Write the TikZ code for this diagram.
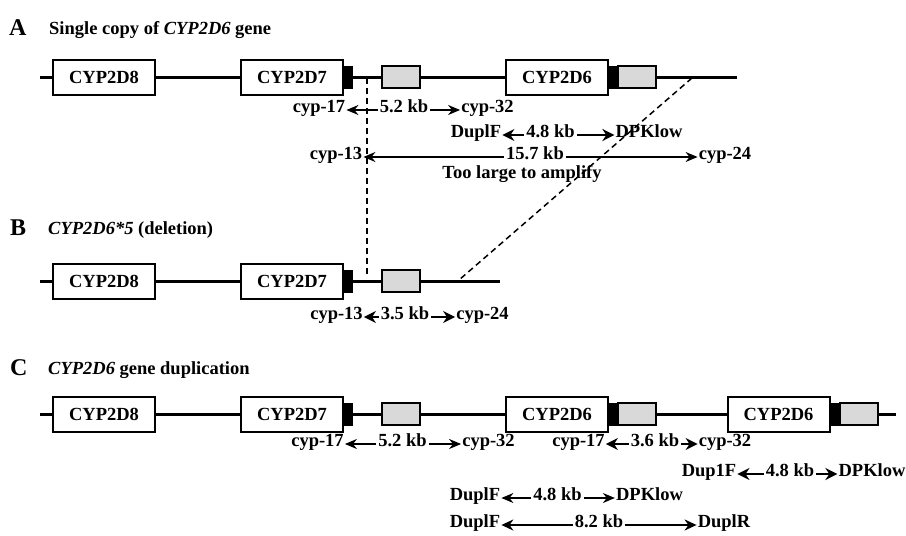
\documentclass[tikz,border=0pt]{standalone}
\usepackage{fontspec}
\setmainfont{Liberation Serif}
\usetikzlibrary{arrows.meta}
\tikzset{
 txt/.style={font=\fontsize{18.5}{20}\selectfont\bfseries, inner sep=0pt, anchor=mid},
 genebox/.style={draw, line width=2pt, fill=white, minimum width=102pt, minimum height=35pt, inner sep=0pt, font=\fontsize{18.5}{20}\selectfont\bfseries},
 blk/.style={fill=black, draw=black, line width=0.5pt, minimum width=9pt, minimum height=22pt, inner sep=0pt},
 gry/.style={draw, line width=2pt, fill=gray!30, minimum width=38pt, minimum height=22pt, inner sep=0pt},
 backbone/.style={line width=3pt},
 thinarr/.style={-{Stealth[length=12pt,width=10pt]}, line width=1.3pt, shorten <=2pt, shorten >=1pt},
 medarr/.style={-{Stealth[length=12pt,width=11pt]}, line width=1.8pt, shorten <=2pt, shorten >=1pt},
 thickarr/.style={-{Stealth[length=12pt,width=12pt]}, line width=2.4pt, shorten <=2pt, shorten >=1pt},
 dashln/.style={dash pattern=on 6pt off 4pt, line width=1.5pt},
 panel/.style={font=\fontsize{24}{26}\selectfont\bfseries, inner sep=0pt, anchor=base west},
 ttl/.style={font=\fontsize{18.5}{20}\selectfont\bfseries, inner sep=0pt, anchor=base west},
}
\begin{document}
\begin{tikzpicture}[x=1pt,y=-1pt]
\useasboundingbox (0,0) rectangle (906,536);
% ---------------- Panel A
\node[panel] (pA) at (9,35) {A};
\node[ttl] (tA) at (49,34) {Single copy of \textit{CYP2D6} gene};
\coordinate (a0) at (40,77); \coordinate (a1) at (737,77);
\draw[backbone] (a0) -- (a1);
\node[genebox] (a8) at (104,77) {CYP2D8};
\node[genebox] (a7) at (292,77) {CYP2D7};
\node[blk] (a7b) at (347.5,77) {};
\node[gry] (a7g) at (401,77) {};
\node[genebox] (a6) at (557,77) {CYP2D6};
\node[blk] (a6b) at (612.5,77) {};
\node[gry] (a6g) at (636.5,77) {};
% A labels
\node[txt] (a17) at (319,110) {cyp-17};
\node[txt] (a52) at (404,110) {5.2 kb};
\node[txt] (a32) at (487.5,110) {cyp-32};
\draw[thinarr] (a52.mid west) -- (a17.mid east);
\draw[thinarr] (a52.mid east) -- (a32.mid west);
\node[txt] (aDF) at (476,135) {DuplF};
\node[txt] (a48) at (550.5,135) {4.8 kb};
\node[txt] (aDP) at (649,135) {DPKlow};
\draw[thickarr] (a48.mid west) -- (aDF.mid east);
\draw[thickarr] (a48.mid east) -- (aDP.mid west);
\node[txt] (a13) at (336,157) {cyp-13};
\node[txt] (a157) at (535,157) {15.7 kb};
\node[txt] (a24) at (725,157) {cyp-24};
\draw[thinarr] (a157.mid west) -- (a13.mid east);
\draw[thinarr] (a157.mid east) -- (a24.mid west);
\node[txt] (aTL) at (522,176) {Too large to amplify};
% dashed deletion boundaries
\coordinate (dv1) at (367,78); \coordinate (dv2) at (367,276);
\coordinate (dg1) at (692,78); \coordinate (dg2) at (459,280);
\draw[dashln] (dv1) -- (dv2);
\draw[dashln] (dg1) -- (dg2);
% ---------------- Panel B
\node[panel] (pB) at (10,235) {B};
\node[ttl] (tB) at (48,234) {\textit{CYP2D6*5} (deletion)};
\coordinate (b0) at (40,281); \coordinate (b1) at (500,281);
\draw[backbone] (b0) -- (b1);
\node[genebox] (b8) at (104,281) {CYP2D8};
\node[genebox] (b7) at (292,281) {CYP2D7};
\node[blk] (b7b) at (347.5,281) {};
\node[gry] (b7g) at (401,281) {};
\node[txt] (b13) at (336.5,317) {cyp-13};
\node[txt] (b35) at (405,317) {3.5 kb};
\node[txt] (b24) at (482.5,317) {cyp-24};
\draw[thickarr] (b35.mid west) -- (b13.mid east);
\draw[thickarr] (b35.mid east) -- (b24.mid west);
% ---------------- Panel C
\node[panel] (pC) at (10,375) {C};
\node[ttl] (tC) at (48,374) {\textit{CYP2D6} gene duplication};
\coordinate (c0) at (40,414); \coordinate (c1) at (896,414);
\draw[backbone] (c0) -- (c1);
\node[genebox] (c8) at (104,414) {CYP2D8};
\node[genebox] (c7) at (292,414) {CYP2D7};
\node[blk] (c7b) at (347.5,414) {};
\node[gry] (c7g) at (401,414) {};
\node[genebox] (c6) at (557,414) {CYP2D6};
\node[blk] (c6b) at (612.5,414) {};
\node[gry] (c6g) at (636.5,414) {};
\node[genebox] (c6x) at (778.5,414) {CYP2D6};
\node[blk] (c6xb) at (835,414) {};
\node[gry] (c6xg) at (859,414) {};
% C labels
\node[txt] (c17) at (317.5,444) {cyp-17};
\node[txt] (c52) at (402.5,444) {5.2 kb};
\node[txt] (c32) at (488.5,444) {cyp-32};
\draw[thinarr] (c52.mid west) -- (c17.mid east);
\draw[thinarr] (c52.mid east) -- (c32.mid west);
\node[txt] (c17x) at (578.5,444) {cyp-17};
\node[txt] (c36) at (655,444) {3.6 kb};
\node[txt] (c32x) at (725,444) {cyp-32};
\draw[thickarr] (c36.mid west) -- (c17x.mid east);
\draw[thickarr] (c36.mid east) -- (c32x.mid west);
\node[txt] (cD1) at (709,474) {Dup1F};
\node[txt] (c48x) at (790,474) {4.8 kb};
\node[txt] (cDPx) at (872,474) {DPKlow};
\draw[thickarr] (c48x.mid west) -- (cD1.mid east);
\draw[thickarr] (c48x.mid east) -- (cDPx.mid west);
\node[txt] (cDF) at (475,498) {DuplF};
\node[txt] (c48) at (557.5,498) {4.8 kb};
\node[txt] (cDP) at (649.5,498) {DPKlow};
\draw[thinarr] (c48.mid west) -- (cDF.mid east);
\draw[thinarr] (c48.mid east) -- (cDP.mid west);
\node[txt] (cDF2) at (475,525) {DuplF};
\node[txt] (c82) at (599,525) {8.2 kb};
\node[txt] (cDR) at (724,525) {DuplR};
\draw[medarr] (c82.mid west) -- (cDF2.mid east);
\draw[medarr] (c82.mid east) -- (cDR.mid west);
\end{tikzpicture}
\end{document}
